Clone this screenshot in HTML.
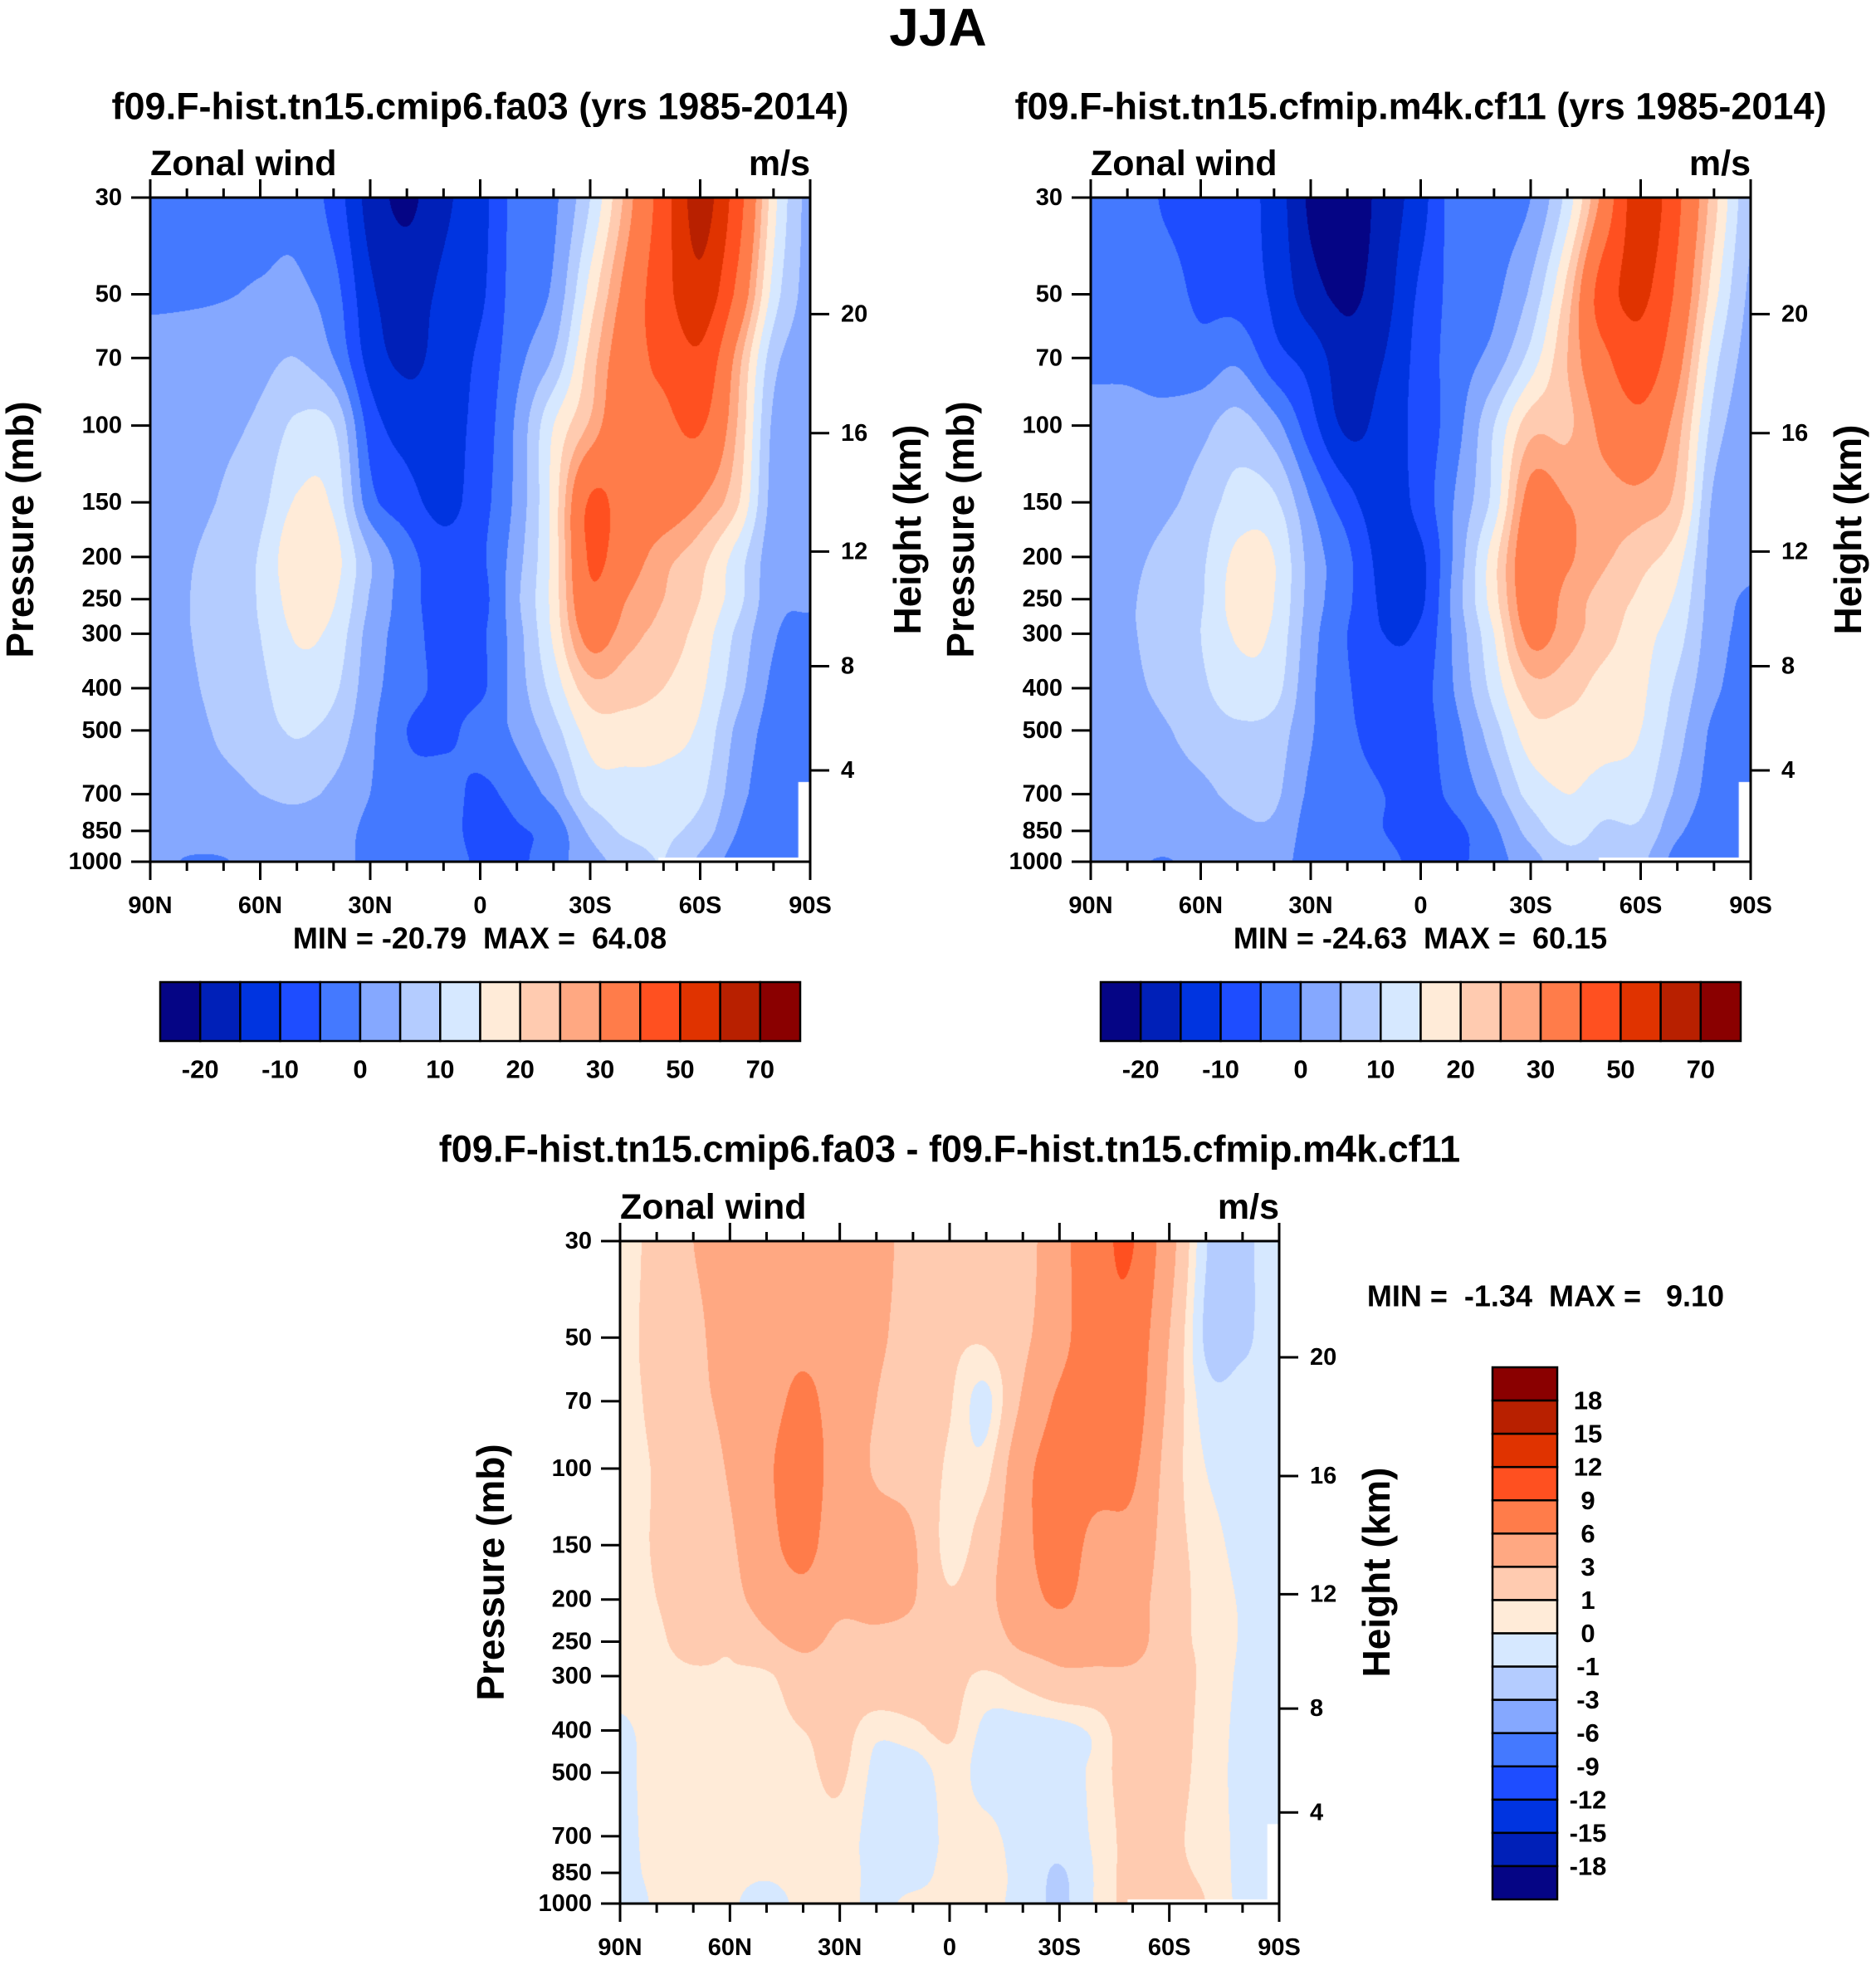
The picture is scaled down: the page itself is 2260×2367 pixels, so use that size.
<!DOCTYPE html>
<html><head><meta charset="utf-8">
<style>
html,body{margin:0;padding:0;background:#fff;}
body{width:2260px;height:2367px;position:relative;overflow:hidden;font-family:"Liberation Sans",Arial,sans-serif;}
canvas{position:absolute;}
svg{position:absolute;left:0;top:0;}
text{font-family:"Liberation Sans",Arial,sans-serif;font-weight:bold;fill:#000;white-space:pre;}
</style></head>
<body>
<div id="fields"></div>
<svg id="ov" width="2260" height="2367"></svg>
<script>
// ---- shared axes data ----
const lats = [90,80,70,60,50,40,30,20,10,0,-10,-20,-30,-40,-50,-60,-70,-80,-90];
const pressures = [30,50,70,100,150,200,250,300,400,500,700,850,1000];
const pressureTicks = [30,50,70,100,150,200,250,300,400,500,700,850,1000];
const latTicks = [90,60,30,0,-30,-60,-90];
const latTickLabels = ['90N','60N','30N','0','30S','60S','90S'];
const heightTicks = [20,16,12,8,4];
const colors = ['#050585','#0020b8','#0034e0','#1e4dff','#4479ff','#85a8ff','#b4ccff','#d6e8ff','#ffebd8','#ffcbb0','#ffa882','#ff7c4a','#ff5020','#e03300','#b82000','#8a0000'];
const levelsMean = [-20,-15,-10,-5,0,5,10,15,20,25,30,40,50,60,70];
const meanBarLabels = ['-20','-10','0','10','20','30','50','70'];
const levelsDiff = [-18,-15,-12,-9,-6,-3,-1,0,1,3,6,9,12,15,18];
const diffBarLabels = ['18','15','12','9','6','3','1','0','-1','-3','-6','-9','-12','-15','-18'];

// ---- fields: one array per latitude column (90N..90S), values at each pressure level (30..1000 mb) ----
const u1 = [
[-3,-0.8,1.5,2,2.5,3,3,3,2.5,2.5,2.5,2,1.5],
[-3,-0.7,2,3,3.5,4.5,4.8,4.7,4,3,2.5,2,-0.3],
[-2.5,-0.3,2.5,4,5.5,7,7.5,7.5,7,6,3.5,2.5,-0.3],
[-2,0.5,3.5,6,8.5,10.5,10.5,10,9,8,5,2.5,2],
[-1.5,1,5,11,15.5,19,17.5,15.5,13,10.5,6,3,2],
[-7,-3,0,10,14,17,15.5,13.5,11,8,4,2,1.5],
[-17,-14,-12,-7,-3,5,4.5,3,2,1,0,-1,-1],
[-21,-17,-16,-12,-8,-3,-2.5,-2.5,-3,-5,-3,-2,-2],
[-16,-14,-13,-12,-11.5,-8,-8,-7,-6,-6,-3,-2.5,-2],
[-12,-11,-9,-8,-7,-6,-7,-6,-6,-3,-6,-7,-6],
[-3,-2.5,-1.5,1,1.5,3,4,3,2.5,1,-3,-5.5,-6],
[-1,1,5.5,15,17,17,17,16,12,8,2,-3,-2],
[10,17,22,26,41,41,38,33,23,17,12,6,3],
[27,33,36,38,36,34,30,27,22,18,13,11,7],
[45,46,42,38,35,27,25,23,20,17,13,11,10],
[64,57,48,41,30,22,20,18,16,14,11,8,4],
[45,38,28,25,21,13,12,9,7,4,2,0,-2],
[17,13,7,4,3,2,1.5,0.5,-1,-2,-3,-4,-4],
[3,3,2.5,2,1.5,1,0.5,-1,-2,-3,-4,-4.5,-4.5]];
const u2 = [
[-2,-2.5,-1,1.5,2,2.5,2.5,2.5,2.5,2.5,2.5,2,1.5],
[-2,-2.5,-1,1.5,3,4,4.5,4.5,4,3,2.5,2,1],
[-5.5,-3,-2,1.5,4,6,6.5,6.5,6,4.5,3,2.5,-0.3],
[-7,-6,-3,3.5,7,9,9.5,10,9,7,4,2.5,1.5],
[-8,-7,-1,7,12,16,17,15.5,13,9,6,4,2],
[-12,-11,-8,2,11,15,15,14,12,8,6,4,2],
[-21,-18,-12,-8,0,3,3,2,1,0.5,-1,-2,-2],
[-23,-21,-18,-16,-8,-4,-4,-5,-4.5,-4,-3,-2,-2],
[-18,-17,-15,-13,-13,-12,-11,-10,-8,-7,-5,-5,-3],
[-12,-9,-8,-8,-8,-11,-11,-9,-7,-7,-7,-8,-7],
[-2,-3,-2.5,-1.5,1,2,3,2,1,-1,-3,-6,-6],
[-1.5,-1,2,10,12,18,18,15,12,8,3,-1,-2],
[0,6,12,23,33,36,35,32,23,18,12,7,3],
[12,22,25,24,30,31,28,27,22,18,15,12,8],
[33,45,38,32,28,26,23,22,18,17,13,9,7],
[56,52,46,37,28,22,19,17,16,15,12,9,6],
[42,38,33,27,23,17,14,12,9,7,4,1,-2],
[22,17,12,8,4,3,2.5,2,1,-1,-2,-3,-4],
[6,4,3,2,1.5,1,-0.5,-1,-2,-3,-4,-4.5,-4.5]];
const ud = [
[0.5,0.6,0.7,0.8,0.8,0.8,0.7,0.5,-0.2,-0.3,-0.3,-0.3,-0.5],
[1.5,1.5,1.3,1.1,1.1,1.0,0.8,0.6,0.4,0.4,0.3,0.2,0.1],
[3,2.5,2.5,2.2,2,1.8,1.5,0.8,0.6,0.5,0.4,0.3,0.2],
[4,4,3.5,3.2,2.7,2.3,1.2,0.9,0.6,0.5,0.4,0.2,0.1],
[4.5,5,5,5.5,5,4,2.5,0.8,0.6,0.5,0.3,0.1,-0.3],
[5,5.5,6.5,7.5,7,5,3.5,2,1,0.7,0.5,0.3,0.2],
[5,5,4.8,4.5,4,3.5,2.5,2,1.5,1.2,0.6,0.4,0.3],
[4,3.5,3,2.8,4,3.8,2.5,2.3,0.3,-0.3,-0.5,-0.3,-0.2],
[2,2,1.8,2.2,3.2,3.1,2.3,2,0.7,-0.7,-0.8,-0.4,0.2],
[1.5,1.3,1.1,0.8,0.5,1.2,1.8,1.5,1.2,0.5,0.3,0.3,0.2],
[1.5,1.2,-0.3,0.6,2,2.5,2,0.8,-0.3,-0.5,0.3,0.3,0.2],
[2,2.5,3.3,5,5,4.5,3.5,1.5,-0.5,-0.7,-0.5,-0.3,-0.3],
[5,5,6.5,7.5,7.8,6.5,4,2.5,-0.4,-0.5,-0.6,-1.1,-1.2],
[8,8,8,7.5,5,4.5,4,2.5,0.3,0.3,0.2,0.1,0.1],
[9.1,8,7.5,6.5,5,4,4,2.5,2,1.8,1.5,1.5,1.5],
[4,3,2.5,2,1.8,1.8,1.5,1.5,1.5,1.5,1.3,1.2,1.2],
[-0.9,-1.2,-0.5,0,0.5,0.6,0.8,0.8,0.7,0.6,0.5,0.8,1],
[-1.2,-1.2,-0.6,-0.5,-0.3,-0.1,-0.1,-0.2,-0.3,-0.3,-0.2,-0.3,-0.3],
[-0.4,-0.4,-0.4,-0.4,-0.4,-0.4,-0.4,-0.4,-0.4,-0.4,-0.4,-0.4,-0.4]];

const NS='http://www.w3.org/2000/svg';
const ov=document.getElementById('ov');
function el(tag,attrs,parent){const e=document.createElementNS(NS,tag);for(const k in attrs)e.setAttribute(k,attrs[k]);(parent||ov).appendChild(e);return e;}
function txt(x,y,s,size,anchor,parent,extra){const t=el('text',Object.assign({x:x,y:y,'font-size':size,'text-anchor':anchor||'middle','dominant-baseline':'central'},extra||{}),parent);t.textContent=s;return t;}

function colorIndex(v,levels){let i=0;while(i<levels.length&&v>=levels[i])i++;return i;}
function hex(c){return [parseInt(c.substr(1,2),16),parseInt(c.substr(3,2),16),parseInt(c.substr(5,2),16)];}
const rgb=colors.map(hex);
const LR=Math.log(1000/30);
function cr(p0,p1,p2,p3,t){return 0.5*((2*p1)+(-p0+p2)*t+(2*p0-5*p1+4*p2-p3)*t*t+(-p0+3*p1-3*p2+p3)*t*t*t);}

function panel(cfg){
  const L=cfg.left,T=cfg.top,W=cfg.w,H=cfg.h;
  const xs=lat=>L+(90-lat)/180*W;
  const ys=p=>T+Math.log(p/30)/LR*H;
  const cv=document.createElement('canvas');
  
  
  cv.width=W;cv.height=H;cv.style.left=L+'px';cv.style.top=T+'px';
  document.getElementById('fields').appendChild(cv);
  const ctx=cv.getContext('2d');const img=ctx.createImageData(W,H);
  const grid=cfg.data;const NI=lats.length,NJ=pressures.length;
  const G=(i,j)=>grid[Math.max(0,Math.min(NI-1,i))][Math.max(0,Math.min(NJ-1,j))];
  for(let py=0;py<H;py++){
    const p=30*Math.exp((py+0.5)/H*LR);
    let j=0;while(j<NJ-2&&p>pressures[j+1])j++;
    const t=Math.min(1,Math.max(0,Math.log(p/pressures[j])/Math.log(pressures[j+1]/pressures[j])));
    for(let px=0;px<W;px++){
      const lat=90-(px+0.5)/W*180;
      let i=0;while(i<NI-2&&lat<lats[i+1])i++;
      const s=(lats[i]-lat)/(lats[i]-lats[i+1]);
      const cols=[];
      for(let di=-1;di<=2;di++){cols.push(cr(G(i+di,j-1),G(i+di,j),G(i+di,j+1),G(i+di,j+2),t));}
      const v=cr(cols[0],cols[1],cols[2],cols[3],s);
      const c=rgb[colorIndex(v,cfg.levels)];
      const k=(py*W+px)*4;img.data[k]=c[0];img.data[k+1]=c[1];img.data[k+2]=c[2];img.data[k+3]=255;
    }
  }
  ctx.putImageData(img,0,0);
  if(cfg.missing){ctx.fillStyle='#fff';ctx.fillRect(W*0.982,H*0.88,W,H);ctx.fillRect(W*0.77,H-5,W,5);}
  const g=el('g',{});
  
  
  el('rect',{x:L,y:T,width:W,height:H,fill:'none',stroke:'#000','stroke-width':3},g);
  pressureTicks.forEach(p=>{const y=ys(p);
    el('line',{x1:L-23,x2:L,y1:y,y2:y,stroke:'#000','stroke-width':3},g);
    const t=txt(L-34,y,String(p),29,'end',g);
    
    
  });
  for(let lat=90;lat>=-90;lat-=10){const x=xs(lat);const major=lat%30===0;const len=major?22:11;
    el('line',{x1:x,x2:x,y1:T+H,y2:T+H+len,stroke:'#000','stroke-width':3},g);
    el('line',{x1:x,x2:x,y1:T,y2:T-len,stroke:'#000','stroke-width':3},g);}
  latTicks.forEach((lat,k)=>{const t=txt(xs(lat),T+H+53,latTickLabels[k],29,'middle',g);
    
    });
  const hFrac={20:0.1755,16:0.3547,12:0.533,8:0.7057,4:0.8625};
  heightTicks.forEach(h=>{const y=T+hFrac[h]*H;
    el('line',{x1:L+W,x2:L+W+23,y1:y,y2:y,stroke:'#000','stroke-width':3},g);
    const t=txt(L+W+37,y,String(h),29,'start',g);
    
    });
  let t;
  t=txt(L-10-cfg.ylabOff,T+H/2,'Pressure (mb)',46,'middle',g,{transform:`rotate(-90 ${L-10-cfg.ylabOff} ${T+H/2})`});
  
  
  t=txt(L+W+117,T+H/2,'Height (km)',46,'middle',g,{transform:`rotate(-90 ${L+W+117} ${T+H/2})`});
  
  
  t=txt(L,T-41,'Zonal wind',43,'start',g);
  
  
  t=txt(L+W,T-41,'m/s',43,'end',g);
  
  
  t=txt(L+W/2,cfg.titleY,cfg.title,45,'middle',g);
  
  
}

function hbar(x,y,w,h,levels,labels){
  const g=el('g',{});
  
  
  const bw=w/colors.length;
  colors.forEach((c,i)=>{const r=el('rect',{x:x+i*bw,y:y,width:bw,height:h,fill:c,stroke:'#000','stroke-width':2.5},g);
    
    });
  labels.forEach((s,k)=>{const t=txt(x+(2*k+1)*bw,y+h+34,s,31,'middle',g);
    
    });
}
function vbar(x,y,w,h,labels){
  const g=el('g',{});
  
  
  const bh=h/colors.length;
  colors.slice().reverse().forEach((c,i)=>{const r=el('rect',{x:x,y:y+i*bh,width:w,height:bh,fill:c,stroke:'#000','stroke-width':2.5},g);
    
    });
  labels.forEach((s,k)=>{const t=txt(x+w+37,y+(k+1)*bh,s,31,'middle',g);
    
    });
}

let tt=txt(1130,33,'JJA',64,'middle');



panel({name:'control-panel',left:181,top:238,w:795,h:800,data:u1,levels:levelsMean,title:'f09.F-hist.tn15.cmip6.fa03 (yrs 1985-2014)',titleY:128,ylabOff:147,missing:true});
panel({name:'experiment-panel',left:1314,top:238,w:795,h:800,data:u2,levels:levelsMean,title:'f09.F-hist.tn15.cfmip.m4k.cf11 (yrs 1985-2014)',titleY:128,ylabOff:147,missing:true});
panel({name:'difference-panel',left:747,top:1495,w:794,h:798,data:ud,levels:levelsDiff,title:'f09.F-hist.tn15.cmip6.fa03 - f09.F-hist.tn15.cfmip.m4k.cf11',titleY:1384,ylabOff:146,missing:true});

tt=txt(578,1130,'MIN = -20.79  MAX =  64.08',36,'middle');


tt=txt(1711,1130,'MIN = -24.63  MAX =  60.15',36,'middle');


tt=txt(1862,1561,'MIN =  -1.34  MAX =   9.10',36,'middle');



hbar(193,1183,771,71,levelsMean,meanBarLabels);
hbar(1326,1183,771,71,levelsMean,meanBarLabels);
vbar(1798,1647,78,641,diffBarLabels);
</script>
</body></html>
